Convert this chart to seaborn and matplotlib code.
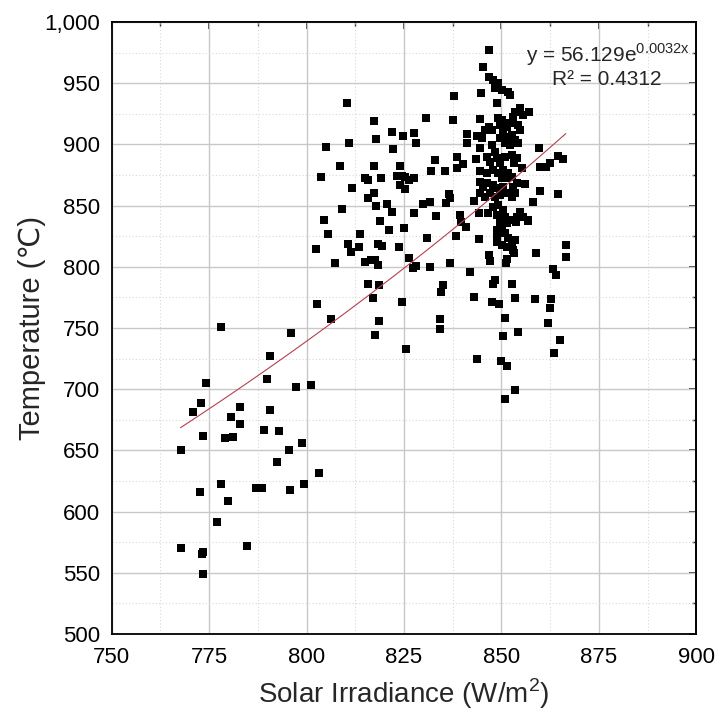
import numpy as np
import pandas as pd
import matplotlib
matplotlib.use("Agg")
import matplotlib.pyplot as plt
import matplotlib.ticker as mticker
import seaborn as sns

# solar irradiance (W/m2) and temperature (C)
irradiance = [
    802.6, 806.3, 778.0, 796.0, 790.7, 774.1, 789.9, 797.4, 801.2, 772.9,
    770.9, 782.9, 780.7, 790.6, 783.0, 773.5, 779.2, 781.1, 789.1, 793.0,
    767.7, 795.6, 798.9, 792.4, 803.2, 778.0, 772.7, 779.8, 787.0, 788.7,
    795.7, 799.4, 777.1, 767.7, 773.1, 773.5, 784.7, 773.5,
    810.4, 837.8, 817.2, 830.7, 837.5, 822.0, 824.7, 827.5, 817.8, 828.0,
    804.9, 810.8, 822.3, 832.9, 838.7, 808.7, 817.2, 824.0, 831.8, 835.6,
    838.7, 803.7, 814.9, 815.8, 819.2, 823.3, 824.4, 825.3, 826.4, 827.5,
    824.0, 825.2, 811.7, 817.3, 815.8, 836.5, 836.9, 835.9, 809.2, 817.8,
    820.6, 821.8, 829.9, 831.7, 827.6, 833.3, 804.5, 818.8, 821.1, 824.9,
    805.4, 813.8, 831.0, 838.3, 810.7, 813.4, 811.4, 818.3, 819.4, 823.6,
    802.5, 807.2, 815.1, 816.5, 817.6, 818.3, 826.3, 827.2, 828.0, 831.7,
    836.9, 815.7, 818.6, 834.9, 834.5, 817.1, 824.6, 818.7, 834.2, 834.2,
    817.5, 825.4,
    839.7, 841.0, 844.2, 853.7, 856.9, 848.8, 850.1, 851.3, 851.7, 853.5,
    852.6, 853.0, 853.3, 850.1, 848.8, 866.5, 866.5, 858.8, 846.8, 847.1,
    851.1, 851.3, 841.8, 863.1, 864.1, 848.3, 847.9, 852.8, 842.9, 847.6,
    849.3, 853.5, 858.6, 862.8, 862.4, 862.0, 850.9, 850.3, 854.2, 865.1,
    863.4, 843.6, 849.9, 851.3, 853.5, 851.0,
    846.9, 845.3, 846.8, 847.9, 849.2, 848.3, 850.1, 851.7, 852.2, 844.8,
    848.8, 844.5, 849.2, 850.1, 849.6, 851.3, 852.2, 853.5, 854.7, 855.6,
    857.1, 853.0, 854.3, 854.7, 846.9, 847.5, 845.8, 841.1, 843.6, 844.9,
    841.2, 850.5, 849.6, 851.3, 852.6, 850.9, 852.2, 853.5, 854.3, 844.5,
    847.5, 848.3, 859.7, 843.4, 846.2, 847.1, 848.8, 849.6, 850.9, 852.6,
    853.9, 853.2, 864.6, 865.8, 840.1, 855.2, 859.9, 861.4, 862.4, 844.5,
    846.2, 847.9, 849.2, 850.5, 851.7, 852.6, 851.3, 850.1, 844.5, 846.2,
    845.3, 847.9, 849.2, 850.5, 853.0, 853.9, 856.0, 844.5, 845.8, 847.1,
    848.3, 849.6, 851.3, 852.6, 853.5, 859.9, 864.4, 843.0, 839.4, 844.3,
    846.6, 847.9, 849.2, 850.5, 848.8, 850.9, 849.6, 852.6, 854.7, 855.6,
    856.9, 853.9, 858.0, 848.8, 850.9, 852.6, 851.3,
]
temperature = [
    769.6, 757.1, 750.6, 745.9, 727.1, 705.3, 708.1, 701.6, 703.2, 688.5,
    681.1, 685.2, 677.5, 682.8, 671.8, 661.5, 660.1, 661.2, 666.7, 666.1,
    650.1, 650.6, 656.3, 640.3, 631.5, 622.3, 615.8, 608.7, 619.3, 619.3,
    617.9, 622.3, 591.3, 570.0, 565.4, 566.6, 571.7, 549.0,
    933.8, 939.5, 919.4, 921.8, 919.7, 910.4, 906.6, 909.3, 904.7, 900.9,
    898.1, 900.9, 896.0, 887.5, 890.0, 882.6, 882.6, 882.1, 878.5, 878.3,
    881.0, 873.1, 872.3, 870.9, 872.3, 874.2, 874.4, 873.1, 871.2, 872.5,
    866.8, 863.3, 864.1, 860.0, 856.5, 859.7, 856.2, 851.9, 847.0, 849.9,
    851.3, 844.8, 851.1, 852.7, 843.9, 841.5, 838.2, 837.7, 830.1, 831.7,
    826.6, 827.0, 823.5, 824.9, 818.4, 816.2, 812.3, 818.4, 817.2, 816.4,
    814.3, 802.9, 804.2, 805.6, 805.3, 801.7, 806.9, 799.3, 800.9, 799.8,
    803.1, 785.9, 785.1, 785.1, 779.4, 774.3, 771.2, 755.9, 757.6, 749.2,
    744.3, 732.6,
    836.8, 832.8, 823.0, 836.8, 837.4, 826.0, 832.8, 835.5, 823.3, 821.9,
    817.8, 813.7, 811.0, 817.8, 820.5, 817.8, 807.8, 811.0, 809.6, 805.0,
    802.9, 806.1, 795.8, 798.4, 793.1, 789.2, 785.9, 785.7, 775.3, 771.0,
    769.6, 774.8, 773.7, 773.7, 766.1, 753.8, 758.2, 743.7, 746.5, 740.2,
    729.8, 724.9, 722.8, 719.2, 699.3, 692.2,
    977.1, 963.2, 955.3, 952.6, 949.9, 945.8, 944.4, 943.1, 940.4, 941.7,
    934.1, 920.5, 921.3, 919.9, 915.8, 914.5, 917.2, 926.7, 929.5, 924.0,
    926.7, 922.6, 915.8, 911.8, 914.5, 911.8, 911.8, 908.5, 906.9, 905.0,
    900.9, 910.4, 905.0, 906.3, 907.7, 900.9, 899.5, 903.6, 900.9, 896.8,
    899.5, 894.0, 896.8, 888.3, 890.0, 885.9, 888.6, 884.6, 890.0, 891.3,
    888.6, 884.6, 890.5, 887.8, 883.7, 881.0, 881.8, 881.3, 884.6, 877.9,
    876.4, 879.1, 876.4, 879.1, 876.4, 873.6, 872.3, 872.3, 869.5, 868.2,
    865.5, 866.8, 864.1, 865.5, 865.5, 868.2, 867.4, 860.0, 857.3, 860.0,
    857.3, 858.7, 860.0, 857.3, 860.0, 861.9, 859.7, 854.0, 842.3, 844.2,
    843.7, 849.1, 850.5, 846.4, 842.3, 841.0, 836.8, 838.2, 845.0, 841.0,
    838.2, 841.0, 852.7, 830.1, 827.4, 819.2, 816.4,
]

x_ticks = [750, 775, 800, 825, 850, 875, 900]
y_ticks = [500, 550, 600, 650, 700, 750, 800, 850, 900, 950, 1000]
eq_text = r"y = 56.129e$^{\mathregular{0.0032x}}$"
r2_text = "R\u00b2 = 0.4312"

df = pd.DataFrame({"irr": irradiance, "temp": temperature})

sns.set_theme(style="white")
plt.rcParams["font.family"] = ["Liberation Sans", "DejaVu Sans"]
plt.rcParams["mathtext.fontset"] = "custom"
plt.rcParams["mathtext.rm"] = "Liberation Sans"

fig = plt.figure(figsize=(7.27, 7.16), dpi=100)
ax = fig.add_axes([0.1534, 0.1145, 0.8046, 0.8548])

ax.set_xlim(750, 900)
ax.set_ylim(500, 1000)
ax.set_xticks(x_ticks)
ax.set_yticks(y_ticks)
ax.xaxis.set_minor_locator(mticker.MultipleLocator(12.5))
ax.yaxis.set_minor_locator(mticker.MultipleLocator(25))
ax.yaxis.set_major_formatter(mticker.FuncFormatter(lambda v, p: f"{v:,.0f}"))

# grid first so the points sit on top
ax.grid(True, which="major", color="#c8c8c8", linewidth=1.0)
ax.grid(True, which="minor", color="#d8d8d8", linewidth=0.8, linestyle=(0, (1, 2)))
ax.set_axisbelow(True)

sns.scatterplot(data=df, x="irr", y="temp", marker="s", color="black",
                s=38, linewidth=0, ax=ax, zorder=3)

# exponential trend line, fitted on the data
b, log_a = np.polyfit(df["irr"], np.log(df["temp"]), 1)
xs = np.linspace(df["irr"].min(), df["irr"].max(), 100)
ax.plot(xs, np.exp(log_a) * np.exp(b * xs), color="#b5404f", linewidth=0.8, zorder=4)

ax.text(0.7085, 0.9356, eq_text, transform=ax.transAxes, fontsize=15,
        ha="left", va="baseline", zorder=5)
ax.text(0.753, 0.8975, r2_text, transform=ax.transAxes, fontsize=15,
        ha="left", va="baseline", zorder=5)

for side in ["left", "bottom", "top", "right"]:
    ax.spines[side].set_visible(True)
    ax.spines[side].set_color("black")
    ax.spines[side].set_linewidth(1.3)

ax.tick_params(which="major", direction="out", length=5.2, width=1.2, colors="black",
               labelsize=16, pad=3)
ax.tick_params(which="minor", direction="out", length=3, width=1.0, colors="black")
ax.tick_params(axis="x", which="major", pad=4)

# inward ticks on the top and right frame
top = ax.secondary_xaxis("top")
top.set_xticks(x_ticks)
top.xaxis.set_minor_locator(mticker.MultipleLocator(12.5))
top.tick_params(which="major", direction="in", length=5.2, width=1.2, labeltop=False)
top.tick_params(which="minor", direction="in", length=3, width=1.0)
top.spines["top"].set_linewidth(1.3)
right = ax.secondary_yaxis("right")
right.set_yticks(y_ticks)
right.yaxis.set_minor_locator(mticker.MultipleLocator(25))
right.tick_params(which="major", direction="in", length=5.2, width=1.2, labelright=False)
right.tick_params(which="minor", direction="in", length=3, width=1.0)
right.spines["right"].set_linewidth(1.3)

ax.set_xlabel("Solar Irradiance (W/m$^{\\mathregular{2}}$)", fontsize=20, labelpad=6)
ax.set_ylabel("Temperature (\u2103)", fontsize=21, labelpad=-1)

fig.savefig("out.png", dpi=100, facecolor="white")
